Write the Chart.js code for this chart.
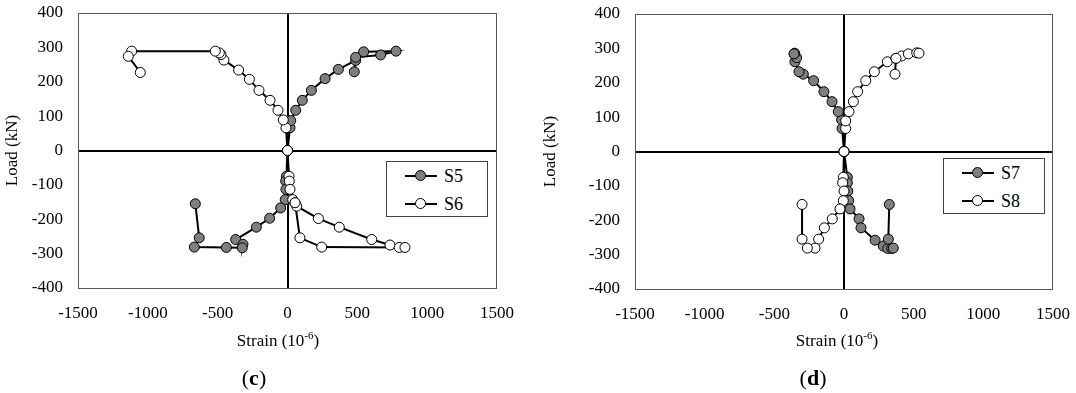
<!DOCTYPE html>
<html>
<head>
<meta charset="utf-8">
<script src="https://cdn.jsdelivr.net/npm/chart.js@4/dist/chart.umd.min.js"></script>
<style>
  body { margin: 0; width: 1076px; height: 393px; background: #fff; position: relative; overflow: hidden; font-family: "Liberation Serif", "Times New Roman", serif; color: #000; }
  .panel { position: absolute; top: 0; height: 330px; }
  .legend { position: absolute; border: 1px solid #404040; background: #fff; box-sizing: border-box; }
  .item { position: absolute; left: 18px; height: 20px; display: flex; align-items: center; font-size: 18px; }
  .mark { position: relative; width: 32px; height: 2px; background: #000; margin-right: 7px; }
  .mark i { position: absolute; left: 10px; top: -5px; width: 11px; height: 11px; border-radius: 50%; border: 1px solid #000; box-sizing: border-box; }
  .xtitle { position: absolute; top: 329px; font-size: 17px; transform: translateX(-50%); white-space: nowrap; }
  .xtitle sup { font-size: 11px; }
  .tag { position: absolute; top: 365px; font-size: 22px; transform: translateX(-50%); }
</style>
</head>
<body>
<div class="panel" style="left:0;width:538px"><canvas id="chartC"></canvas></div>
<div class="panel" style="left:540px;width:536px"><canvas id="chartD"></canvas></div>
<div class="legend" id="legC" style="left:386px;top:161px;width:102px;height:56px"></div>
<div class="legend" id="legD" style="left:943px;top:158px;width:102px;height:56px"></div>
<div class="xtitle" style="left:278px">Strain (10<sup>-6</sup>)</div>
<div class="xtitle" style="left:837px">Strain (10<sup>-6</sup>)</div>
<div class="tag" style="left:254px">(<b>c</b>)</div>
<div class="tag" style="left:813px">(<b>d</b>)</div>
<script>
// strain (10^-6), load (kN) pairs
const s5Up = [[0,0],[18,66],[23,87],[59,117],[106,146],[171,175],[269,209],[364,236],[488,262],[545,287],[777,289],[667,278],[488,271],[478,229]];
const s5Down = [[0,0],[-8,-75],[-13,-89],[-11,-113],[-16,-143],[-49,-167],[-128,-197],[-223,-223],[-371,-259],[-319,-273],[-324,-283],[-438,-282],[-667,-281],[-632,-254],[-660,-155]];
const s6Up = [[0,0],[-11,66],[-30,89],[-68,117],[-125,146],[-204,175],[-273,207],[-350,234],[-455,263],[-476,279],[-488,284],[-517,289],[-1116,289],[-1140,274],[-1054,227]];
const s6Down = [[0,0],[11,-75],[13,-89],[18,-113],[37,-143],[54,-152],[66,-162],[221,-198],[371,-223],[603,-259],[734,-275],[800,-282],[841,-282],[245,-281],[89,-254],[54,-152]];

const s7Up = [[0,0],[-14,67],[-17,92],[-41,116],[-86,145],[-144,174],[-218,206],[-292,225],[-323,232],[-352,261],[-340,273],[-354,286],[-359,284]];
const s7Down = [[0,0],[24,-75],[24,-91],[27,-115],[34,-143],[43,-167],[108,-196],[122,-222],[223,-258],[282,-275],[314,-282],[342,-282],[354,-281],[318,-255],[325,-154]];
const s8Up = [[0,0],[12,67],[12,89],[36,116],[67,145],[98,174],[156,206],[218,232],[311,261],[373,271],[414,278],[462,284],[522,287],[538,286],[373,271],[366,225]];
const s8Down = [[0,0],[-5,-75],[-10,-91],[0,-115],[-5,-143],[-29,-167],[-84,-196],[-141,-222],[-182,-255],[-208,-281],[-263,-281],[-301,-255],[-301,-154]];

const xTicks = [-1500, -1000, -500, 0, 500, 1000, 1500];
const yTicks = [-400, -300, -200, -100, 0, 100, 200, 300, 400];

const GRAY = '#7f7f7f';
const tickFont = { family: 'Liberation Serif', size: 17 };

// outline of the plot area
const boxPlugin = {
    id: 'plotBox',
    beforeDatasetsDraw(chart) {
        const a = chart.chartArea;
        const ctx = chart.ctx;
        ctx.save();
        ctx.strokeStyle = '#595959';
        ctx.lineWidth = 1;
        ctx.strokeRect(Math.round(a.left) + 0.5, Math.round(a.top) + 0.5, Math.round(a.right - a.left) - 1, Math.round(a.bottom - a.top));
        ctx.restore();
    }
};

function series(label, pts, fill, order, legend) {
    return {
        label: label,
        data: pts.map(p => ({ x: p[0], y: p[1] })),
        showLine: true,
        borderColor: '#000',
        borderWidth: 2,
        pointRadius: 5,
        pointBorderWidth: 1,
        pointBackgroundColor: fill,
        pointBorderColor: '#000',
        order: order,
        legend: legend
    };
}

function zeroGrid() {
    return {
        drawTicks: false,
        color: c => c.tick && c.tick.value === 0 ? '#000' : 'rgba(0,0,0,0)',
        lineWidth: c => c.tick && c.tick.value === 0 ? 2 : 0
    };
}

function makeChart(id, sets, pad, yWidth, xHeight, titlePad) {
    return new Chart(document.getElementById(id), {
        type: 'scatter',
        data: { datasets: sets },
        options: {
            animation: false,
            responsive: true,
            maintainAspectRatio: false,
            layout: { padding: pad },
            plugins: { legend: { display: false }, tooltip: { enabled: false } },
            scales: {
                x: {
                    type: 'linear', min: -1500, max: 1500,
                    afterBuildTicks: s => { s.ticks = xTicks.map(v => ({ value: v })); },
                    ticks: { font: tickFont, color: '#000', padding: 15, maxRotation: 0, callback: v => String(v) },
                    grid: zeroGrid(),
                    border: { display: false },
                    afterFit: s => { s.height = xHeight; s.paddingLeft = 0; s.paddingRight = 0; }
                },
                y: {
                    type: 'linear', min: -400, max: 400,
                    afterBuildTicks: s => { s.ticks = yTicks.map(v => ({ value: v })); },
                    ticks: { font: tickFont, color: '#000', padding: 15, callback: v => String(v) },
                    grid: zeroGrid(),
                    border: { display: false },
                    title: { display: true, text: 'Load (kN)', font: tickFont, color: '#000', padding: { top: titlePad, bottom: 0 } },
                    afterFit: s => { s.width = yWidth; s.paddingTop = 0; s.paddingBottom = 0; }
                }
            }
        },
        plugins: [boxPlugin]
    });
}

function makeLegend(id, sets) {
    const box = document.getElementById(id);
    const shown = sets.filter(d => d.legend);
    shown.forEach((d, i) => {
        const item = document.createElement('div');
        item.className = 'item';
        item.style.top = (4 + i * 28) + 'px';
        item.innerHTML = '<span class="mark"><i style="background:' + d.pointBackgroundColor + '"></i></span>' + d.label;
        box.appendChild(item);
    });
}

const setsC = [
    series('S5', s5Up, GRAY, 1, true),
    series('S5', s5Down, GRAY, 1, false),
    series('S6', s6Up, '#fff', 0, true),
    series('S6', s6Down, '#fff', 0, false)
];
const setsD = [
    series('S7', s7Up, GRAY, 1, true),
    series('S7', s7Down, GRAY, 1, false),
    series('S8', s8Up, '#fff', 0, true),
    series('S8', s8Down, '#fff', 0, false)
];

makeChart('chartC', setsC, { top: 13, right: 41, bottom: 0, left: 0 }, 78, 42, 2);
makeChart('chartD', setsD, { top: 14, right: 23, bottom: 0, left: 0 }, 95, 41, 0);
makeLegend('legC', setsC);
makeLegend('legD', setsD);
</script>
</body>
</html>
